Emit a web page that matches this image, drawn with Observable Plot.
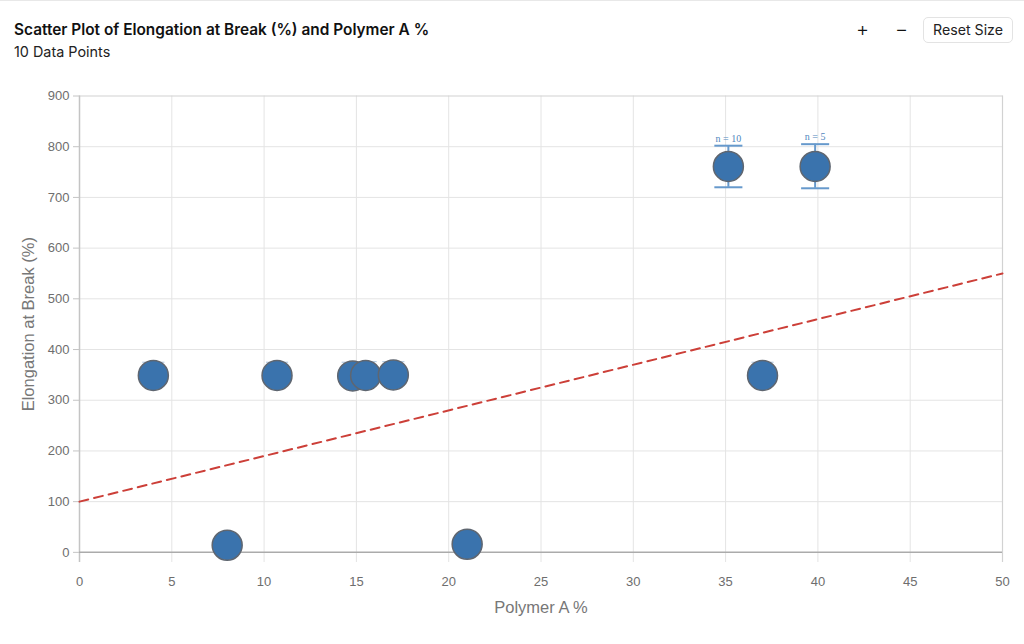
<!DOCTYPE html>
<html>
<head>
<meta charset="utf-8">
<script src="https://cdn.jsdelivr.net/npm/d3@7"></script>
<script src="https://cdn.jsdelivr.net/npm/@observablehq/plot@0.6"></script>
<style>
html,body{margin:0;padding:0;background:#fff;width:1024px;height:644px;overflow:hidden;font-family:Inter,sans-serif;}
#top{position:relative;height:70px;border-top:1px solid #e8e8e8;box-sizing:border-box;}
#title{position:absolute;left:14px;top:20px;font-size:15.4px;font-weight:600;color:#111;white-space:nowrap;line-height:18px;}
#sub{position:absolute;left:14px;top:42px;font-size:14.4px;color:#222;white-space:nowrap;line-height:18px;}
.ctl{position:absolute;top:17px;font-size:20px;line-height:22px;color:#111;font-weight:300;}
#reset{position:absolute;left:923px;top:16px;width:90px;height:26px;box-sizing:border-box;border:1px solid #e3e3e3;border-radius:5px;font-size:14.2px;line-height:24px;text-align:center;color:#222;}
#chart svg{display:block;}
</style>
</head>
<body>
<div id="top">
<div id="title">Scatter Plot of Elongation at Break (%) and Polymer A %</div>
<div id="sub">10 Data Points</div>
<div class="ctl" style="left:856px">+</div>
<div class="ctl" style="left:895px">−</div>
<div id="reset">Reset Size</div>
</div>
<div id="chart"></div>
<script>
const polymerA = [4, 10.7, 14.8, 15.5, 17, 37, 8, 21, 35.15, 39.85];
const elongation = [349, 349, 348, 349, 350, 349, 14, 16, 761, 761];
const errLow = [349, 349, 348, 349, 350, 349, 14, 16, 720, 718];
const errHigh = [375, 375, 375, 376, 376, 375, 14, 16, 802, 805];
const sampleN = ["", "", "", "", "", "", "", "", "n = 10", "n = 5"];
const fitX = [0, 50];
const fitY = [100, 550];
const xTicks = [0, 5, 10, 15, 20, 25, 30, 35, 40, 45, 50];
const yTicks = [0, 100, 200, 300, 400, 500, 600, 700, 800, 900];
const capHalf = 0.76;
const smallCapHalf = 0.6;

const pts = polymerA.map((x, i) => ({x, y: elongation[i], lo: errLow[i], hi: errHigh[i], n: sampleN[i]}));
const labelled = pts.filter(d => d.n);
const smallBars = pts.filter(d => d.hi > d.lo && !d.n);
const fit = fitX.map((x, i) => ({x, y: fitY[i]}));

const plot = Plot.plot({
  width: 1024, height: 574,
  marginLeft: 79, marginRight: 22, marginTop: 25.5, marginBottom: 82,
  style: {background: "#fff", fontFamily: "Liberation Sans, Arial, sans-serif"},
  x: {domain: [0, 50]},
  y: {domain: [-20, 900]},
  marks: [
    Plot.ruleX(xTicks, {stroke: "#e4e4e4", strokeWidth: 1}),
    Plot.ruleY(yTicks.filter(d => d > 0 && d < 900), {stroke: "#e4e4e4", strokeWidth: 1}),
    Plot.ruleY([900], {stroke: "#d2d2d2", strokeWidth: 1.2}),
    Plot.ruleX([50], {stroke: "#d2d2d2", strokeWidth: 1.2}),
    Plot.ruleX([0], {stroke: "#c4c4c4", strokeWidth: 1.5}),
    Plot.ruleY([0], {stroke: "#ababab", strokeWidth: 1.5}),
    Plot.axisX({ticks: xTicks, tickSize: 0, tickPadding: 14, fontSize: 13, color: "#6e6e6e", label: null, tickFormat: d => d}),
    Plot.axisY({ticks: yTicks, tickSize: 6, tickPadding: 4, fontSize: 13, color: "#6e6e6e", stroke: "#c4c4c4", label: null, tickFormat: d => d}),
    Plot.text(["Polymer A %"], {x: [25], frameAnchor: "bottom", dy: 50, fontSize: 16.5, fill: "#777", text: d => d}),
    Plot.text(["Elongation at Break (%)"], {y: [450], frameAnchor: "left", textAnchor: "middle", dx: -51, rotate: -90, fontSize: 16.5, fill: "#777", text: d => d}),
    Plot.line(fit, {x: "x", y: "y", stroke: "#cc3f38", strokeWidth: 2, strokeDasharray: "9,6"}),
    Plot.ruleX(labelled, {x: "x", y1: "lo", y2: "hi", stroke: "#6699cc", strokeWidth: 2}),
    Plot.link(labelled, {x1: d => d.x - capHalf, x2: d => d.x + capHalf, y1: "hi", y2: "hi", stroke: "#6699cc", strokeWidth: 2}),
    Plot.link(labelled, {x1: d => d.x - capHalf, x2: d => d.x + capHalf, y1: "lo", y2: "lo", stroke: "#6699cc", strokeWidth: 2}),
    Plot.link(smallBars, {x1: d => d.x - smallCapHalf, x2: d => d.x + smallCapHalf, y1: "hi", y2: "hi", stroke: "#a9c3dd", strokeWidth: 1}),
    Plot.text(labelled, {x: "x", y: "hi", text: "n", dy: -7, fontSize: 10, fontFamily: "Liberation Serif, serif", fill: "#4f86bd"}),
    Plot.dot(pts, {x: "x", y: "y", r: 15, fill: "#3a73ad", stroke: "#5f6670", strokeWidth: 1.5})
  ]
});
document.getElementById("chart").appendChild(plot);
</script>
</body>
</html>
